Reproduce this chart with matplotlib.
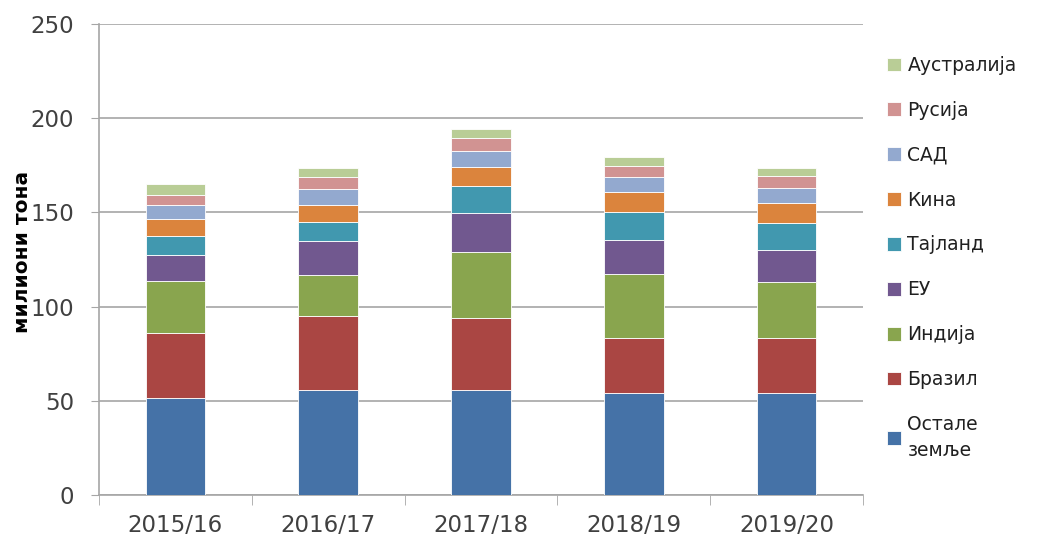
import matplotlib
matplotlib.use('Agg')
import matplotlib.pyplot as plt
import numpy as np

years = ['2015/16', '2016/17', '2017/18', '2018/19', '2019/20']
series = ['Остале\nземље', 'Бразил', 'Индија', 'ЕУ', 'Тајланд', 'Кина', 'САД', 'Русија', 'Аустралија']
ostale = [51.7, 55.6, 55.6, 54.0, 54.0]
brazil = [34.5, 39.2, 38.5, 29.5, 29.5]
india = [27.2, 22.0, 34.7, 34.0, 29.4]
eu = [14.2, 18.0, 20.7, 18.0, 17.3]
thai = [9.9, 10.1, 14.7, 14.5, 14.0]
china = [8.8, 9.2, 9.9, 10.8, 10.6]
usa = [7.8, 8.1, 8.7, 8.0, 8.0]
russia = [5.3, 6.6, 6.7, 6.0, 6.7]
australia = [5.5, 4.8, 4.6, 4.6, 4.1]
colors = ['#4572A7', '#AA4643', '#89A54E', '#71588F', '#4198AF',
          '#DB843D', '#93A9CF', '#D19392', '#B9CD96']

data = [ostale, brazil, india, eu, thai, china, usa, russia, australia]

fig = plt.figure(figsize=(10.38, 5.40), dpi=100)
ax = fig.add_axes([0.0954, 0.0833, 0.736, 0.8723])

x = np.arange(len(years))
bottom = np.zeros(len(years))
handles = []
for vals, name, c in zip(data, series, colors):
    b = ax.bar(x, vals, 0.39, bottom=bottom, color=c, edgecolor='white',
               linewidth=0.6, label=name, zorder=3)
    handles.append(b)
    bottom += np.array(vals)

grid_c = '#a6a6a6'
ax.set_ylim(0, 250)
ax.set_xlim(-0.5, len(years) - 0.5)
ax.set_yticks(range(0, 251, 50))
ax.yaxis.grid(True, color=grid_c, linewidth=1.2, zorder=0)
ax.set_xticks(x)
ax.set_xticklabels(years)
ax.set_xticks(np.arange(-0.5, len(years), 1), minor=True)
ax.tick_params(axis='x', which='major', length=0, labelsize=16.5, colors='#404040', pad=14)
ax.tick_params(axis='x', which='minor', length=7, color=grid_c, direction='out')
ax.tick_params(axis='y', length=6, color=grid_c, labelsize=16.5, labelcolor='#404040', pad=12)
for s in ['top', 'right']:
    ax.spines[s].set_visible(False)
for s in ['left', 'bottom']:
    ax.spines[s].set_color(grid_c)
    ax.spines[s].set_linewidth(1.2)

ax.set_ylabel('милиони тона', fontsize=14.5, fontweight='bold')
ax.yaxis.set_label_coords(-0.088, 0.515)

leg = ax.legend(handles[::-1], series[::-1], loc='upper left',
                bbox_to_anchor=(1.014, 0.96), frameon=False, fontsize=13.5,
                handlelength=0.75, handleheight=0.75, handletextpad=0.35,
                labelspacing=1.38, borderaxespad=0.3)
for t in leg.get_texts():
    t.set_color('#202020')
    t.set_linespacing(1.45)

fig.savefig('out.png', dpi=100)
